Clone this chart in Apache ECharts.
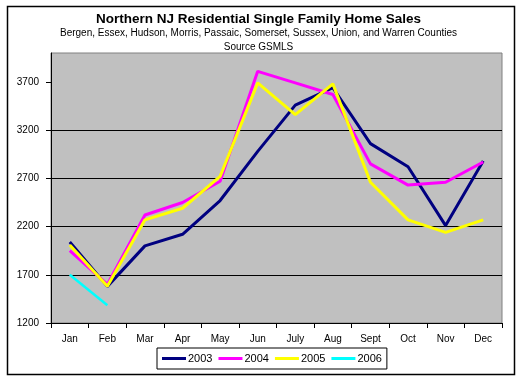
<!DOCTYPE html>
<html>
<head>
<meta charset="utf-8">
<script src="https://cdn.jsdelivr.net/npm/echarts@6/dist/echarts.min.js"></script>
<style>html,body{margin:0;padding:0;background:#fff}#c{width:517px;height:377px}</style>
</head>
<body>
<div id="c"></div>
<script>
const categories = ["Jan","Feb","Mar","Apr","May","Jun","July","Aug","Sept","Oct","Nov","Dec"];
const s2003 = [2040, 1580, 2000, 2120, 2470, 2980, 3460, 3640, 3060, 2820, 2210, 2880];
const s2004 = [1950, 1600, 2320, 2450, 2670, 3810, 3690, 3570, 2850, 2630, 2660, 2870];
const s2005 = [2010, 1580, 2270, 2390, 2720, 3690, 3360, 3680, 2660, 2270, 2140, 2270];
const s2006 = [1700, 1385];
const yTicks = [1200, 1700, 2200, 2700, 3200, 3700];

const FONT = "'Liberation Sans', Arial, sans-serif";
const chart = echarts.init(document.getElementById('c'), null, {renderer: 'canvas'});
const mk = (name, data, color, w) => ({
  name, type: 'line', data, showSymbol: false, symbol: 'none',
  lineStyle: {color, width: w}, itemStyle: {color}, animation: false
});
chart.setOption({
  animation: false,
  backgroundColor: '#fff',
  title: [
    {text: 'Northern NJ Residential Single Family Home Sales', left: 'center', top: 7,
     textStyle: {fontFamily: FONT, fontSize: 13.5, fontWeight: 'bold', color: '#000'}},
    {text: 'Bergen, Essex, Hudson, Morris, Passaic, Somerset, Sussex, Union, and Warren Counties', left: 'center', top: 23,
     textStyle: {fontFamily: FONT, fontSize: 10, fontWeight: 'normal', color: '#000'}},
    {text: 'Source GSMLS', left: 'center', top: 37,
     textStyle: {fontFamily: FONT, fontSize: 10, fontWeight: 'normal', color: '#000'}}
  ],
  graphic: [{type: 'rect', left: 5, top: 4, shape: {width: 507, height: 368},
    style: {fill: 'none', stroke: '#000', lineWidth: 1.5}, silent: true, z: 100}],
  grid: {left: 51, right: 15, top: 53, bottom: 54, show: true,
    backgroundColor: '#C0C0C0', borderColor: '#808080', borderWidth: 1},
  xAxis: {type: 'category', data: categories, boundaryGap: true,
    axisLine: {lineStyle: {color: '#000', width: 1}},
    axisTick: {show: true, length: 5, lineStyle: {color: '#000'}},
    axisLabel: {fontFamily: FONT, fontSize: 10, color: '#000', margin: 11, interval: 0},
    splitLine: {show: false}},
  yAxis: {type: 'value', min: 1200, max: 4000, interval: 500,
    axisLine: {show: true, lineStyle: {color: '#000', width: 1}},
    axisTick: {show: true, length: 5, lineStyle: {color: '#000'}, customValues: yTicks},
    axisLabel: {fontFamily: FONT, fontSize: 10, color: '#000', margin: 12, customValues: yTicks,
      formatter: v => String(v)},
    splitLine: {show: true, showMaxLine: false, lineStyle: {color: '#000', width: 1}}},
  legend: {left: 157, top: 348, orient: 'horizontal',
    borderColor: '#000', borderWidth: 1, padding: [5, 5, 5, 5], itemGap: 6,
    itemWidth: 24, itemHeight: 3, icon: 'rect',
    textStyle: {fontFamily: FONT, fontSize: 11, color: '#000', padding: [0, 0, 0, -3]},
    data: ['2003', '2004', '2005', '2006']},
  series: [
    mk('2003', s2003, '#000080', 3),
    mk('2004', s2004, '#FF00FF', 3),
    mk('2005', s2005, '#FFFF00', 3),
    mk('2006', s2006, '#00FFFF', 2.5)
  ]
});
</script>
</body>
</html>
